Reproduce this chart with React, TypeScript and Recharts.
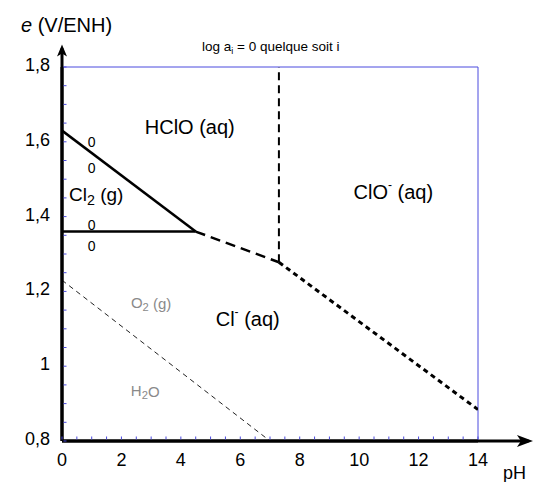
import React from "react";
import { LineChart, Line, XAxis, YAxis, ReferenceLine, ReferenceDot } from "recharts";

const FONT = "Arial, 'Liberation Sans', sans-serif";
const BLUE = "#4a4ade";

const xTicks = [0, 2, 4, 6, 8, 10, 12, 14];
const yTicks = [0.8, 1, 1.2, 1.4, 1.6, 1.8];
const xMinorTicks = [0, 0.5, 1, 1.5, 2, 2.5, 3, 3.5, 4, 4.5, 5, 5.5, 6, 6.5, 7, 7.5, 8, 8.5, 9, 9.5, 10, 10.5, 11, 11.5, 12, 12.5, 13, 13.5, 14];
const yMinorTicks = [0.8, 0.85, 0.9, 0.95, 1, 1.05, 1.1, 1.15, 1.2, 1.25, 1.3, 1.35, 1.4, 1.45, 1.5, 1.55, 1.6, 1.65, 1.7, 1.75, 1.8];

// frontières (pH, E)
const cl2Hclo = [{ ph: 0, e: 1.63 }, { ph: 4.5, e: 1.36 }];
const cl2Cl = [{ ph: 0, e: 1.36 }, { ph: 4.5, e: 1.36 }];
const hcloCl = [{ ph: 4.5, e: 1.36 }, { ph: 7.3, e: 1.278 }];
const hcloClo = [{ ph: 7.3, e: 1.278 }, { ph: 7.3, e: 1.8 }];
const cloCl = [{ ph: 7.3, e: 1.278 }, { ph: 14, e: 0.884 }];
const water = [{ ph: 0, e: 1.23 }, { ph: 7, e: 0.8 }];

// étiquettes des domaines
const regionLabels = [
  { ph: 4.3, e: 1.64, main: "HClO (aq)", size: 20, color: "#000" },
  { ph: 11.15, e: 1.466, main: "ClO", sup: "-", rest: " (aq)", size: 20, color: "#000" },
  { ph: 6.25, e: 1.126, main: "Cl", sup: "-", rest: " (aq)", size: 20, color: "#000" },
  { ph: 1.15, e: 1.46, main: "Cl", sub: "2", rest: " (g)", size: 19, color: "#000" },
  { ph: 3.0, e: 1.17, main: "O", sub: "2", rest: " (g)", size: 15, color: "#8a8a8a" },
  { ph: 2.8, e: 0.935, main: "H", sub: "2", rest: "O", size: 15, color: "#8a8a8a" },
];
const zeroLabels = [
  { ph: 1.0, e: 1.6 },
  { ph: 1.0, e: 1.53 },
  { ph: 1.0, e: 1.378 },
  { ph: 1.0, e: 1.322 },
];

const fmt = (v: number) => String(v).replace(".", ",");

function RegionText(p: any, l: any) {
  return (
    <text
      x={p.cx}
      y={p.cy}
      textAnchor="middle"
      dominantBaseline="central"
      fontFamily={FONT}
      fontSize={l.size}
      fill={l.color}
    >
      {l.main}
      {l.sub && (
        <tspan dy={l.size * 0.3} fontSize={l.size * 0.75}>
          {l.sub}
        </tspan>
      )}
      {l.sup && (
        <tspan dy={-l.size * 0.35} fontSize={l.size * 0.6}>
          {l.sup}
        </tspan>
      )}
      {l.rest && (
        <tspan dy={l.sub ? -l.size * 0.3 : l.size * 0.35}>{l.rest}</tspan>
      )}
    </text>
  );
}

const XTick = (p: any) => (
  <text x={p.x} y={p.y} dy="0.71em" textAnchor="middle" fontFamily={FONT} fontSize={18} fill="#000">
    {p.payload.value}
  </text>
);
const YTick = (p: any) => (
  <text x={p.x} y={p.y - 2} textAnchor="end" dominantBaseline="central" fontFamily={FONT} fontSize={18} fill="#000">
    {fmt(p.payload.value)}
  </text>
);

export default function App() {
  return (
    <div style={{ position: "absolute", left: 0, top: 0, width: 533, height: 482, background: "#fff" }}>
      <LineChart width={533} height={482} margin={{ top: 67, right: 55, bottom: 0, left: 0 }}>
        <XAxis
          type="number"
          dataKey="ph"
          domain={[0, 14]}
          ticks={xTicks}
          height={41}
          tickLine={false}
          tickMargin={6}
          axisLine={{ stroke: "#000", strokeWidth: 3 }}
          tick={XTick}
          allowDataOverflow
        />
        <YAxis
          type="number"
          dataKey="e"
          domain={[0.8, 1.8]}
          ticks={yTicks}
          width={62}
          tickLine={false}
          tickMargin={6}
          axisLine={{ stroke: "#000", strokeWidth: 3 }}
          tick={YTick}
          allowDataOverflow
        />
        <ReferenceLine y={1.8} stroke={BLUE} strokeWidth={1} />
        <ReferenceLine x={14} stroke={BLUE} strokeWidth={1} />
        <ReferenceLine
          segment={[{ x: 0, y: 0.8 }, { x: 0, y: 1.85 }]}
          ifOverflow="visible"
          stroke="#000"
          strokeWidth={3}
        />
        <ReferenceLine
          segment={[{ x: 0, y: 0.8 }, { x: 15.7, y: 0.8 }]}
          ifOverflow="visible"
          stroke="#000"
          strokeWidth={3}
        />
        {xMinorTicks.map((v) => (
          <ReferenceDot
            key={"mx" + v}
            x={v}
            y={0.8}
            ifOverflow="visible"
            shape={(p: any) => <line x1={p.cx} x2={p.cx} y1={p.cy - 1.5} y2={p.cy - 4.5} stroke={BLUE} strokeWidth={1} />}
          />
        ))}
        {yMinorTicks.map((v) => (
          <ReferenceDot
            key={"my" + v}
            x={0}
            y={v}
            ifOverflow="visible"
            shape={(p: any) => <line x1={p.cx + 1.5} x2={p.cx + 4.5} y1={p.cy} y2={p.cy} stroke={BLUE} strokeWidth={1} />}
          />
        ))}
        <ReferenceDot
          x={0}
          y={1.86}
          ifOverflow="visible"
          shape={(p: any) => (
            <polygon
              points={`${p.cx},${p.cy} ${p.cx - 5},${p.cy + 12} ${p.cx},${p.cy + 9} ${p.cx + 5},${p.cy + 12}`}
              fill="#000"
            />
          )}
        />
        <ReferenceDot
          x={15.85}
          y={0.8}
          ifOverflow="visible"
          shape={(p: any) => (
            <polygon
              points={`${p.cx},${p.cy} ${p.cx - 16},${p.cy - 6} ${p.cx - 12},${p.cy} ${p.cx - 16},${p.cy + 6}`}
              fill="#000"
            />
          )}
        />

        <Line data={water} dataKey="e" stroke="#222" strokeWidth={1} strokeDasharray="5 4" dot={false} isAnimationActive={false} />
        <Line data={cl2Hclo} dataKey="e" stroke="#000" strokeWidth={2.5} dot={false} isAnimationActive={false} />
        <Line data={cl2Cl} dataKey="e" stroke="#000" strokeWidth={2.5} dot={false} isAnimationActive={false} />
        <Line data={hcloCl} dataKey="e" stroke="#000" strokeWidth={2.5} strokeDasharray="10 6" dot={false} isAnimationActive={false} />
        <Line data={hcloClo} dataKey="e" stroke="#000" strokeWidth={2} strokeDasharray="8 5" dot={false} isAnimationActive={false} />
        <Line data={cloCl} dataKey="e" stroke="#000" strokeWidth={3} strokeDasharray="5 4" dot={false} isAnimationActive={false} />

        {regionLabels.map((l, i) => (
          <ReferenceDot key={"r" + i} x={l.ph} y={l.e} ifOverflow="visible" shape={(p: any) => RegionText(p, l)} />
        ))}
        {zeroLabels.map((l, i) => (
          <ReferenceDot
            key={"z" + i}
            x={l.ph}
            y={l.e}
            ifOverflow="visible"
            shape={(p: any) => (
              <text x={p.cx} y={p.cy} textAnchor="middle" dominantBaseline="central" fontFamily={FONT} fontSize={14} fill="#000">
                0
              </text>
            )}
          />
        ))}
      </LineChart>
      <svg width={533} height={482} style={{ position: "absolute", left: 0, top: 0, pointerEvents: "none" }}>
        <text x={21} y={32} fontFamily={FONT} fontSize={20} fill="#000">
          <tspan fontStyle="italic">e</tspan> (V/ENH)
        </text>
        <text x={202} y={51} fontFamily={FONT} fontSize={13.5} fill="#000">
          log a<tspan dy={3} fontSize={9}>i</tspan>
          <tspan dy={-3}> = 0 quelque soit i</tspan>
        </text>
        <text x={503} y={479} fontFamily={FONT} fontSize={18} fill="#000">
          pH
        </text>
      </svg>
    </div>
  );
}
